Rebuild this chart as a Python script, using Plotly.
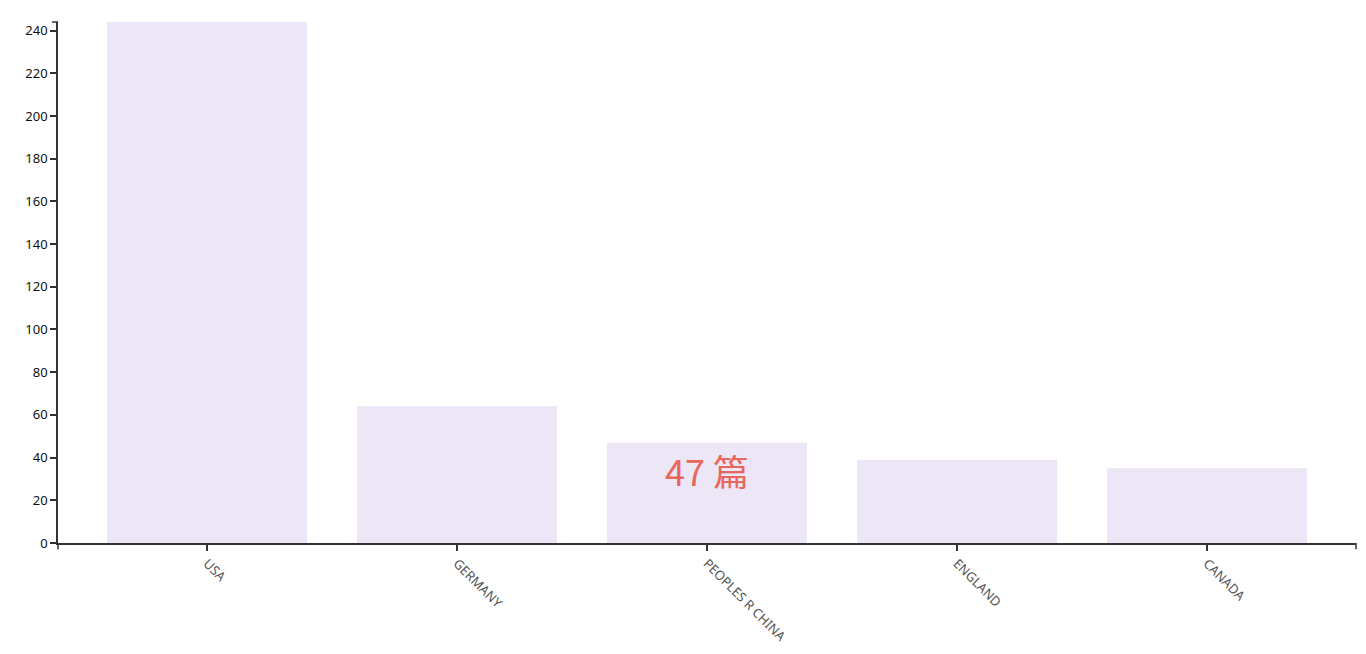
import plotly.graph_objects as go

countries = ["USA", "GERMANY", "PEOPLES R CHINA", "ENGLAND", "CANADA"]
counts = [244, 64, 47, 39, 35]
highlight_label = "47 篇"
highlight_country = "PEOPLES R CHINA"
y_max = max(counts)

fig = go.Figure()
fig.add_trace(go.Bar(
    x=countries, y=counts,
    marker=dict(color="#ece6f6", line=dict(width=0)),
    hoverinfo="x+y",
))

axis_col = "#333333"
fig.update_layout(
    width=1358, height=646,
    margin=dict(l=50, r=10, t=14, b=111, autoexpand=False),
    paper_bgcolor="white", plot_bgcolor="white",
    bargap=0.2,
    showlegend=False,
    font=dict(family="Noto Sans, Open Sans, sans-serif", size=13, color="#000"),
    xaxis=dict(
        range=[-0.596, 4.596],
        showline=True, linecolor=axis_col, linewidth=1.5,
        ticks="outside", ticklen=6, tickcolor=axis_col, tickwidth=1.5,
        tickangle=45, tickfont=dict(size=13, color="#555"),
        showgrid=False, zeroline=False, fixedrange=True,
    ),
    yaxis=dict(
        range=[0, y_max],
        showline=True, linecolor=axis_col, linewidth=1.5,
        ticks="outside", ticklen=6, tickcolor=axis_col, tickwidth=1.5,
        dtick=20, tick0=0, tickfont=dict(size=13, color="#111"),
        showgrid=False, zeroline=False, fixedrange=True,
    ),
    shapes=[
        dict(type="line", xref="paper", yref="paper", x0=0, x1=0, y0=0, y1=-0.012,
             line=dict(color=axis_col, width=1.5)),
        dict(type="line", xref="paper", yref="paper", x0=1, x1=1, y0=0, y1=-0.012,
             line=dict(color=axis_col, width=1.5)),
        dict(type="line", xref="paper", yref="paper", x0=-0.0046, x1=0, y0=1, y1=1,
             line=dict(color=axis_col, width=1.5)),
    ],
    annotations=[
        dict(x=highlight_country, y=34, xref="x", yref="y", text=highlight_label,
             showarrow=False,
             font=dict(family="Noto Sans CJK SC, Noto Sans, sans-serif", size=36, color="#e8675a")),
    ],
)

fig.write_html("out.html")
